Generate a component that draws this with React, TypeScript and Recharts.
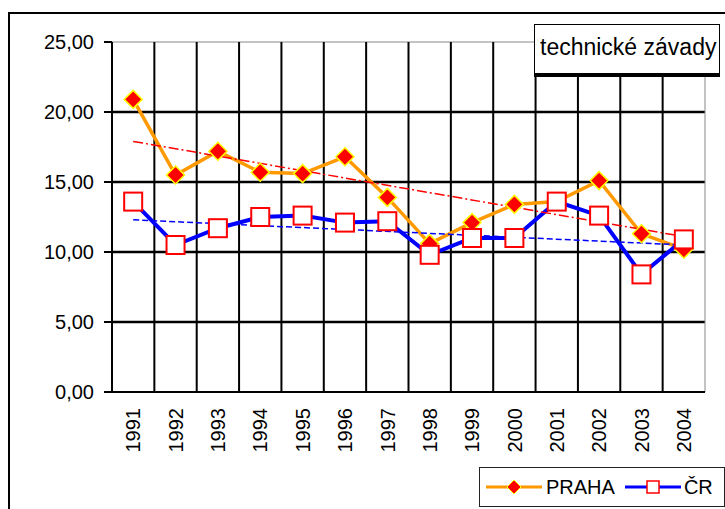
import {
  Legend,
  Line,
  LineChart,
  ReferenceLine,
  XAxis,
  YAxis,
} from "recharts";

const years = ["1991", "1992", "1993", "1994", "1995", "1996", "1997", "1998", "1999", "2000", "2001", "2002", "2003", "2004"];
const praha = [20.9, 15.5, 17.2, 15.7, 15.6, 16.8, 13.9, 10.6, 12.1, 13.4, 13.6, 15.1, 11.3, 10.2];
const cr = [13.6, 10.5, 11.7, 12.5, 12.6, 12.1, 12.2, 9.8, 11.0, 11.0, 13.6, 12.6, 8.4, 10.9];
// trend line ends (first year, last year)
const prahaTrend = [17.9, 11.1];
const crTrend = [12.3, 10.5];
const yTicks = [0, 5, 10, 15, 20, 25];
const boundaries = years.map((_, i) => i).concat(years.length);

const chartData = years.map((year, i) => ({
  pos: i + 0.5,
  year,
  praha: praha[i],
  cr: cr[i],
  prahaTrend: i === 0 ? prahaTrend[0] : i === years.length - 1 ? prahaTrend[1] : null,
  crTrend: i === 0 ? crTrend[0] : i === years.length - 1 ? crTrend[1] : null,
}));

const font = "Arial, 'Liberation Sans', sans-serif";

const Diamond = (props: any) => {
  const { cx, cy, index } = props;
  if (cx == null || cy == null) return <g key={index} />;
  const r = 9;
  return (
    <polygon
      key={index}
      points={`${cx},${cy - r} ${cx + r},${cy} ${cx},${cy + r} ${cx - r},${cy}`}
      fill="#ff0000"
      stroke="#ffff00"
      strokeWidth={1.5}
    />
  );
};

const Square = (props: any) => {
  const { cx, cy, index } = props;
  if (cx == null || cy == null) return <g key={index} />;
  return (
    <rect key={index} x={cx - 9} y={cy - 9} width={18} height={18} fill="#fff" stroke="#ff0000" strokeWidth={2} />
  );
};

const YearTick = (props: any) => {
  const { x, y, payload } = props;
  const idx = Math.round(payload.value - 0.5);
  return (
    <text
      transform={`translate(${x},${y}) rotate(-90)`}
      textAnchor="end"
      dy="0.36em"
      fontSize={20}
      fontFamily={font}
      fill="#000"
    >
      {years[idx]}
    </text>
  );
};

const LegendBox = () => (
  <div
    style={{
      width: 244,
      height: 38,
      border: "1px solid #222",
      background: "#fff",
      display: "flex",
      alignItems: "center",
      fontFamily: font,
      fontSize: 20,
      color: "#000",
      boxSizing: "content-box",
    }}
  >
    <svg width={56} height={20} style={{ marginLeft: 6 }}>
      <line x1={0} y1={10} x2={56} y2={10} stroke="#ff9900" strokeWidth={3} />
      <polygon points="28,3 35,10 28,17 21,10" fill="#ff0000" stroke="#ffff00" strokeWidth={1} />
    </svg>
    <span style={{ marginLeft: 4 }}>PRAHA</span>
    <svg width={56} height={20} style={{ marginLeft: 10 }}>
      <line x1={0} y1={10} x2={56} y2={10} stroke="#0000ff" strokeWidth={3} />
      <rect x={22} y={4} width={12} height={12} fill="#fff" stroke="#ff0000" strokeWidth={1.5} />
    </svg>
    <span style={{ marginLeft: 3 }}>ČR</span>
  </div>
);

export default function App() {
  return (
    <div
      style={{
        position: "fixed",
        left: 0,
        top: 0,
        width: 725,
        height: 509,
        overflow: "hidden",
        background: "#fff",
      }}
    >
      <div
        style={{
          position: "absolute",
          left: 8,
          top: 12,
          width: 740,
          height: 520,
          border: "2px solid #000",
        }}
      />
      <div style={{ position: "absolute", left: 0, top: 0 }}>
        <LineChart
          width={725}
          height={509}
          data={chartData}
          margin={{ top: 42, right: 20, left: 12, bottom: 37 }}
        >
          <XAxis
            xAxisId="grid"
            type="number"
            dataKey="pos"
            domain={[0, years.length]}
            ticks={boundaries}
            interval={0}
            tick={false}
            tickSize={7}
            height={8}
            axisLine={{ stroke: "#000", strokeWidth: 2 }}
            tickLine={{ stroke: "#000", strokeWidth: 2 }}
          />
          <XAxis
            xAxisId="labels"
            type="number"
            dataKey="pos"
            domain={[0, years.length]}
            ticks={chartData.map((d) => d.pos)}
            interval={0}
            tick={<YearTick />}
            tickSize={0}
            tickMargin={8}
            height={72}
            axisLine={false}
            tickLine={false}
          />
          <YAxis
            domain={[0, 25]}
            ticks={yTicks}
            interval={0}
            width={100}
            tickSize={8}
            tickMargin={10}
            tickFormatter={(v: number) => v.toFixed(2).replace(".", ",")}
            tick={{ fontSize: 20, fontFamily: font, fill: "#000" }}
            axisLine={{ stroke: "#000", strokeWidth: 2 }}
            tickLine={{ stroke: "#000", strokeWidth: 2 }}
          />
          {yTicks.slice(1, -1).map((v) => (
            <ReferenceLine key={"h" + v} xAxisId="grid" y={v} stroke="#000" strokeWidth={2.5} />
          ))}
          <ReferenceLine xAxisId="grid" y={25} stroke="#888" strokeWidth={1} />
          {boundaries.slice(1, -1).map((b) => (
            <ReferenceLine key={"v" + b} xAxisId="grid" x={b} stroke="#000" strokeWidth={2} />
          ))}
          <ReferenceLine xAxisId="grid" x={years.length} stroke="#888" strokeWidth={1} />
          <Legend
            layout="horizontal"
            verticalAlign="middle"
            align="center"
            content={<LegendBox />}
            wrapperStyle={{ left: 479, top: 467, width: "auto" }}
          />
          <Line
            xAxisId="grid"
            dataKey="praha"
            stroke="#ff9900"
            strokeWidth={3.5}
            dot={<Diamond />}
            isAnimationActive={false}
          />
          <Line
            xAxisId="grid"
            dataKey="cr"
            stroke="#0000ff"
            strokeWidth={4}
            dot={<Square />}
            isAnimationActive={false}
          />
          <Line
            xAxisId="grid"
            dataKey="prahaTrend"
            stroke="#ff0000"
            strokeWidth={1.5}
            strokeDasharray="10 3 2 3"
            connectNulls
            dot={false}
            isAnimationActive={false}
          />
          <Line
            xAxisId="grid"
            dataKey="crTrend"
            stroke="#0000ff"
            strokeWidth={1.5}
            strokeDasharray="6 3"
            connectNulls
            dot={false}
            isAnimationActive={false}
          />
        </LineChart>
      </div>
      <div
        style={{
          position: "absolute",
          left: 534,
          top: 24,
          width: 186,
          border: "1.5px solid #000",
          borderBottom: "4px solid #000",
          background: "#fff",
          fontFamily: font,
          fontSize: 23,
          lineHeight: "45px",
          paddingLeft: 5,
          boxSizing: "border-box",
          color: "#000",
          whiteSpace: "nowrap",
          height: 53,
        }}
      >
        technické závady
      </div>
    </div>
  );
}
